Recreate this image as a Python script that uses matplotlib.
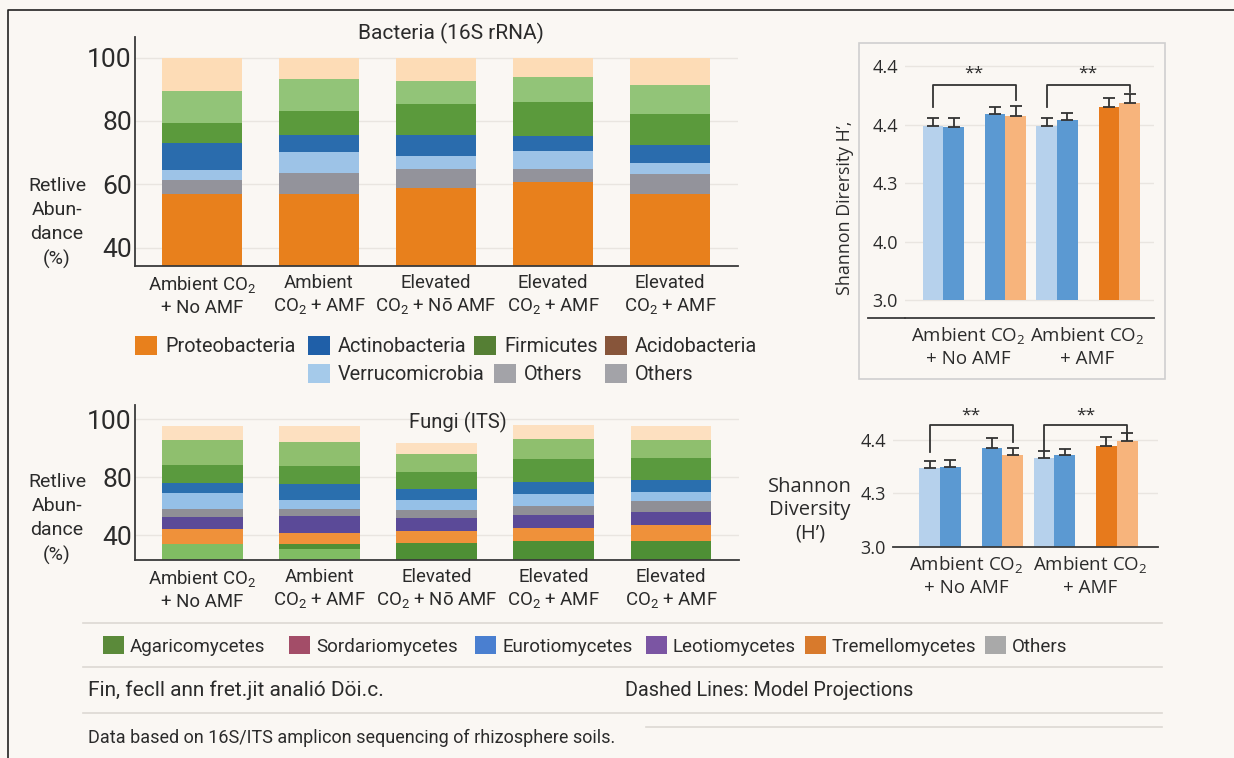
import numpy as np
import matplotlib
matplotlib.use('Agg')
import matplotlib.pyplot as plt
from matplotlib.patches import Rectangle
from matplotlib.lines import Line2D
from matplotlib import font_manager

installed = {f.name for f in font_manager.fontManager.ttflist}
narrow = 'Liberation Sans Narrow' if 'Liberation Sans Narrow' in installed else 'Roboto'
wide = 'Open Sans'
plt.rcParams['font.family'] = [narrow, 'DejaVu Sans']
plt.rcParams['mathtext.default'] = 'regular'

BG = '#faf7f3'
INK = '#2b2b2b'

# ---------------- data ----------------
conditions = ['Ambient CO$_2$\n+ No AMF', 'Ambient\nCO$_2$ + AMF', 'Elevated\nCO$_2$ + Nō AMF',
              'Elevated\nCO$_2$ + AMF', 'Elevated\nCO$_2$ + AMF']

# bacteria: upper edge of each band (%), bottom to top
bac_proteo = [56.8, 56.9, 58.9, 60.7, 56.9]
bac_others = [61.4, 63.5, 64.9, 64.9, 63.2]
bac_verruco = [64.4, 70.1, 68.9, 70.5, 66.8]
bac_actino = [73.0, 75.6, 75.5, 75.4, 72.4]
bac_firmic = [79.5, 83.1, 85.4, 86.0, 82.1]
bac_green2 = [89.3, 93.2, 92.5, 94.0, 91.4]
bac_rest = [100, 100, 100, 100, 100]

# fungi: upper edge of each band (%), bottom to top
fun_base_light = [33.6, 30.4, 0, 0, 0]
fun_base_dark = [33.6, 34.0, 34.4, 36.0, 36.0]
fun_orange = [44.0, 41.2, 42.8, 44.8, 47.2]
fun_purple = [52.8, 53.2, 51.6, 53.6, 56.0]
fun_gray = [58.0, 58.0, 57.6, 60.0, 63.6]
fun_lblue = [69.2, 64.4, 64.4, 68.4, 70.0]
fun_blue = [76.0, 75.2, 71.6, 76.8, 78.0]
fun_green = [84.2, 84.0, 81.8, 86.4, 86.6]
fun_green2 = [93.0, 92.2, 88.0, 93.2, 92.8]
fun_rest = [97.6, 97.6, 92.0, 98.2, 97.8]

# shannon panels: 8 bars, values in tick-slot units (axis labels are not linear)
sh_groups = ['Ambient CO$_2$\n+ No AMF', 'Ambient CO$_2$\n+ AMF']
sh_colors = ['#b6d1ec', '#5b99d2', '#5b99d2', '#f7b47c', '#b6d1ec', '#5b99d2', '#e77a1c', '#f7b47c']
sh_top_mean = [2.97, 2.96, 3.18, 3.15, 2.97, 3.08, 3.30, 3.36]
sh_top_err = [0.15, 0.15, 0.12, 0.17, 0.15, 0.12, 0.15, 0.17]
sh_top_ticks = ['3.0', '4.0', '4.3', '4.4', '4.4']
sh_bot_mean = [1.48, 1.50, 1.85, 1.71, 1.66, 1.72, 1.89, 1.98]
sh_bot_err = [0.13, 0.12, 0.18, 0.14, 0.14, 0.11, 0.16, 0.15]
sh_bot_ticks = ['3.0', '4.3', '4.4']

bac_names = ['Proteobacteria', 'Actinobacteria', 'Firmicutes', 'Acidobacteria',
             'Verrucomicrobia', 'Others', 'Others']
bac_leg_cols = ['#e8801c', '#1f5fa8', '#557f34', '#87553a', '#a5caea', '#a3a3a8', '#a3a3a8']
fun_names = ['Agaricomycetes', 'Sordariomycetes', 'Eurotiomycetes', 'Leotiomycetes',
             'Tremellomycetes', 'Others']
fun_leg_cols = ['#5b8a3a', '#a34d68', '#4a7fd0', '#7b55a3', '#d87a2c', '#a9a9a9']

# ---------------- figure ----------------
fig = plt.figure(figsize=(12.34, 7.58), dpi=100, facecolor=BG)
W, H = 1234.0, 758.0


def fx(px):
    return px / W


def fy(py):
    return 1 - py / H


def box(l, t, r, b):
    return [fx(l), fy(b), fx(r) - fx(l), fy(t) - fy(b)]


def legend_item(x, y, color, text, size, pw=22, ph=19, gap=8):
    # one swatch + label, x/y = swatch left / vertical centre in pixels
    fig.patches.append(Rectangle((fx(x), fy(y + ph / 2)), pw / W, ph / H,
                                 transform=fig.transFigure, facecolor=color, edgecolor='none'))
    fig.text(fx(x + pw + gap), fy(y), text, ha='left', va='center_baseline', fontsize=size,
             color=INK)


def style_left(ax):
    ax.set_facecolor('none')
    for s in ['top', 'right']:
        ax.spines[s].set_visible(False)
    for s in ['left', 'bottom']:
        ax.spines[s].set_color('#3a3a3a')
        ax.spines[s].set_linewidth(1.3)
    ax.tick_params(length=0)
    ax.tick_params(axis='y', labelsize=19, pad=2, labelcolor=INK)
    ax.tick_params(axis='x', labelsize=13.4, pad=6, labelcolor=INK)
    ax.grid(axis='y', color='#e9e5e0', lw=1)
    ax.set_axisbelow(True)


x5 = np.arange(len(conditions))
bw = 0.69

# bacteria
axb = fig.add_axes(box(134.6, 36.7, 738, 266))
style_left(axb)
bac_layers = [bac_proteo, bac_others, bac_verruco, bac_actino, bac_firmic, bac_green2, bac_rest]
bac_cols = ['#e8801c', '#93939b', '#9dc3e7', '#2a6cad', '#5b9a3c', '#92c478', '#fddcb6']
prev = np.zeros(len(x5))
for tops, c in zip(bac_layers, bac_cols):
    tops = np.array(tops, float)
    axb.bar(x5, tops - prev, bottom=prev, width=bw, color=c, linewidth=0)
    prev = tops
axb.set_ylim(34.2, 106.6)
axb.set_xlim(-0.576, 4.58)
axb.set_yticks([40, 60, 80, 100])
axb.set_xticks(x5, conditions, linespacing=1.25)
fig.text(fx(451), fy(33), 'Bacteria (16S rRNA)', ha='center', va='center', fontsize=15, color=INK)
fig.text(fx(57), fy(223), 'Retlive\nAbun-\ndance\n(%)', ha='center', va='center',
         fontsize=14, linespacing=1.45, color=INK)

# bacteria legend, two rows
bac_leg_pos = [(135, 345), (308, 345), (474, 345), (605, 345), (308, 373), (494, 373), (605, 373)]
for (lx, ly), c, name in zip(bac_leg_pos, bac_leg_cols, bac_names):
    legend_item(lx, ly, c, name, 14.3)


# fungi (ticks 40/80/100 are drawn evenly spaced)
def f_fwd(v):
    v = np.asarray(v, float)
    return np.where(v <= 80, (v - 40) / 40, 1 + (v - 80) / 20)


def f_inv(p):
    p = np.asarray(p, float)
    return np.where(p <= 1, 40 + 40 * p, 80 + 20 * (p - 1))


axf = fig.add_axes(box(134.6, 405, 739, 560))
style_left(axf)
axf.set_yscale('function', functions=(f_fwd, f_inv))
fun_layers = [fun_base_light, fun_base_dark, fun_orange, fun_purple, fun_gray, fun_lblue,
              fun_blue, fun_green, fun_green2, fun_rest]
fun_cols = ['#80bd63', '#4e8f35', '#ef913a', '#5b4a98', '#8f8f96', '#95c0e7', '#2a6fae',
            '#5a9a3e', '#8fbf6e', '#fde0c0']
prev = np.zeros(len(x5))
for tops, c in zip(fun_layers, fun_cols):
    tops = np.maximum(np.array(tops, float), prev)
    axf.bar(x5, tops - prev, bottom=prev, width=bw, color=c, linewidth=0)
    prev = tops
axf.set_ylim(22.8, 105)
axf.set_xlim(-0.576, 4.58)
axf.set_yticks([40, 80, 100], ['40', '80', '100'])
axf.yaxis.set_minor_locator(matplotlib.ticker.NullLocator())
axf.set_xticks(x5, conditions, linespacing=1.25)
axf.text(0.535, 0.89, 'Fungi (ITS)', transform=axf.transAxes, ha='center', va='center',
         fontsize=14.5, color=INK)
fig.text(fx(57), fy(519), 'Retlive\nAbun-\ndance\n(%)', ha='center', va='center',
         fontsize=14, linespacing=1.45, color=INK)

fun_leg_x = [103, 289, 475, 646, 805, 985]
for lx, c, name in zip(fun_leg_x, fun_leg_cols, fun_names):
    legend_item(lx, 645, c, name, 13.5, pw=21, ph=18, gap=6)

# ---------------- shannon panels ----------------
sh_x = np.array([0, 1, 3, 4, 5.5, 6.5, 8.5, 9.5])


def shannon(ax, means, errs, ticks, xl, yl, label_x, brackets):
    ax.set_facecolor('none')
    for s in ['top', 'right', 'left']:
        ax.spines[s].set_visible(False)
    ax.spines['bottom'].set_color('#3a3a3a')
    ax.spines['bottom'].set_linewidth(1.3)
    ax.bar(sh_x, means, width=1.0, color=sh_colors, linewidth=0, zorder=2)
    ax.errorbar(sh_x, means, yerr=[np.zeros(len(errs)), errs], fmt='none', ecolor='#333333',
                elinewidth=1.3, capsize=4, capthick=1.3, zorder=3)
    ax.set_xlim(*xl)
    ax.set_ylim(*yl)
    ax.set_yticks(np.arange(len(ticks)), ticks)
    for t in range(len(ticks)):
        ax.axhline(t, color='#e9e5e0', lw=1, zorder=0)
    ax.set_xticks(label_x, sh_groups, linespacing=1.3)
    ax.tick_params(length=0, labelsize=13, labelcolor=INK, pad=5)
    ax.tick_params(axis='x', labelsize=13.5)
    for lab in ax.get_xticklabels() + ax.get_yticklabels():
        lab.set_fontfamily([wide, 'DejaVu Sans'])
    for x0, x1, yl0, ytop, yr, star_y in brackets:
        ax.plot([x0, x0, x1, x1], [yl0, ytop, ytop, yr], color='#333333', lw=1.3, zorder=4)
        ax.text((x0 + x1) / 2, star_y, '**', ha='center', va='center', fontsize=12.5,
                color=INK, fontfamily=[wide, 'DejaVu Sans'])


# top right (framed)
fig.patches.append(Rectangle((fx(859), fy(379)), fx(1165) - fx(859), fy(42.7) - fy(379),
                             transform=fig.transFigure, facecolor='none',
                             edgecolor='#cfcfcf', lw=1.2))
axs1 = fig.add_axes(box(905, 51.4, 1154, 318.3))
shannon(axs1, sh_top_mean, sh_top_err, sh_top_ticks, (-1.35, 10.68), (-0.31, 4.25),
        [1.7, 7.44],
        [(0, 4, 3.30, 3.67, 3.42, 3.87), (5.5, 9.5, 3.30, 3.67, 3.55, 3.87)])
axs1.plot([-0.15, 0], [0, 0], transform=axs1.transAxes, color='#3a3a3a', lw=1.3, clip_on=False)
fig.text(fx(845), fy(208), 'Shannon Dirersity H’,', rotation=90, ha='center', va='center',
         fontsize=12.8, color=INK, fontfamily=[wide, 'DejaVu Sans'])

# bottom right
axs2 = fig.add_axes(box(893, 408, 1158, 546.7))
shannon(axs2, sh_bot_mean, sh_bot_err, sh_bot_ticks, (-1.76, 10.98), (0, 2.6),
        [1.78, 7.7],
        [(0, 4, 1.78, 2.28, 1.97, 2.45), (5.5, 9.5, 1.80, 2.28, 2.02, 2.45)])
fig.text(fx(810), fy(510), 'Shannon\nDiversity\n(H’)', ha='center', va='center',
         fontsize=14.5, linespacing=1.2, color=INK, fontfamily=[wide, 'DejaVu Sans'])

# ---------------- footer ----------------
for y, x0 in [(622.7, 83), (666.7, 83), (712.7, 83), (726.7, 646)]:
    fig.add_artist(Line2D([fx(x0), fx(1162)], [fy(y), fy(y)], color='#dcd8d3', lw=1.2))
fig.text(fx(88), fy(690), 'Fin, fecll ann fret.jit analió Döi.c.', ha='left', va='center',
         fontsize=15, color=INK)
fig.text(fx(625), fy(690), 'Dashed Lines: Model Projections', ha='left', va='center',
         fontsize=14.3, color=INK)
fig.text(fx(88), fy(738), 'Data based on 16S/ITS amplicon sequencing of rhizosphere soils.',
         ha='left', va='center', fontsize=13, color=INK)

# outer frame (left and top edges only)
fig.add_artist(Line2D([fx(8), fx(8), 1], [0, fy(10), fy(10)], color='#222222', lw=1.2))

fig.savefig('out.png', dpi=100, facecolor=BG)
